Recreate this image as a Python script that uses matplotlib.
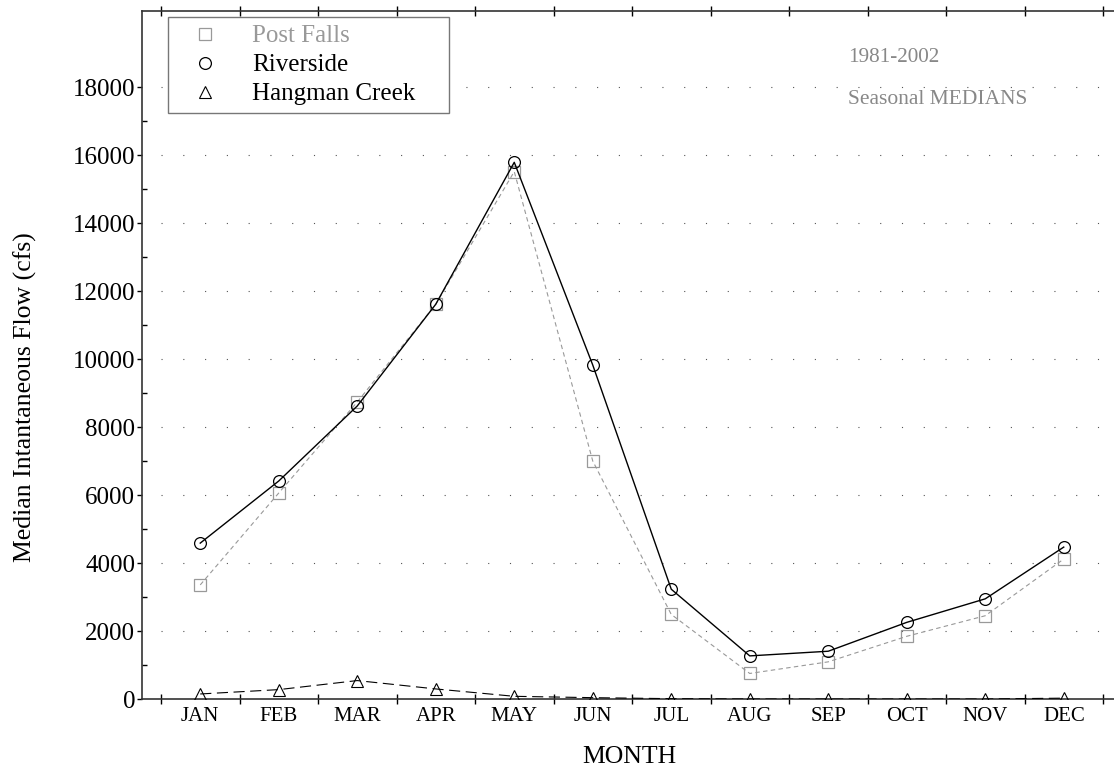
import matplotlib
matplotlib.use('Agg')
import matplotlib.pyplot as plt
from matplotlib.ticker import FixedLocator, FixedFormatter, NullFormatter
from matplotlib.lines import Line2D

plt.rcParams['font.family'] = ['Liberation Serif', 'DejaVu Serif']

months = ['JAN', 'FEB', 'MAR', 'APR', 'MAY', 'JUN', 'JUL', 'AUG', 'SEP', 'OCT', 'NOV', 'DEC']
post_falls = [3356, 6059, 8735, 11610, 15512, 7000, 2488, 751, 1093, 1844, 2449, 4117]
riverside = [4585, 6412, 8618, 11610, 15785, 9823, 3229, 1268, 1405, 2254, 2946, 4468]
hangman = [148, 276, 542, 296, 79, 39, 10, 0, 0, 0, 0, 25]
y_ticks = [0, 2000, 4000, 6000, 8000, 10000, 12000, 14000, 16000, 18000]
y_minor = [1000, 3000, 5000, 7000, 9000, 11000, 13000, 15000, 17000]
series_labels = ['Post Falls', 'Riverside', 'Hangman Creek']
note_period = '1981-2002'
note_stat = 'Seasonal MEDIANS'

W, H = 1114, 768
fig = plt.figure(figsize=(W / 100, H / 100), dpi=100)
ax = fig.add_axes([142.3 / W, (H - 699) / H, (1116 - 142.3) / W, (699 - 10.5) / H])

x = list(range(len(months)))
n = len(months)
ax.set_xlim((142.3 - 200.25) / 78.5, (1116 - 200.25) / 78.5)
ax.set_ylim(0, 20250)

# dotted horizontal grid from the first boundary
for v in y_ticks[1:]:
    ax.plot([-0.5, n + 1], [v, v], color='#555555', lw=0.8, ls=(0, (1, 18.6)), zorder=1)

ax.plot(x, post_falls, color='#999999', lw=0.8, ls=(0, (4, 3)), marker='s', ms=8,
        mfc='none', mec='#999999', mew=0.9, zorder=3)
ax.plot(x, riverside, color='black', lw=1.0, marker='o', ms=8.5,
        mfc='none', mec='black', mew=0.9, zorder=4)
ax.plot(x, hangman, color='black', lw=0.8, ls=(0, (10, 5)), marker='^', ms=8.5,
        mfc='none', mec='black', mew=0.8, zorder=3)

# axes ticks
ax.yaxis.set_major_locator(FixedLocator(y_ticks))
ax.yaxis.set_minor_locator(FixedLocator(y_minor))
ax.tick_params(axis='y', which='major', direction='out', length=3.6, width=1,
               labelsize=18, pad=1.5, colors='black')
ax.tick_params(axis='y', which='minor', direction='in', length=3.4, width=1)

ax.xaxis.set_major_locator(FixedLocator([i - 0.5 for i in range(n + 1)]))
ax.xaxis.set_major_formatter(NullFormatter())
ax.xaxis.set_minor_locator(FixedLocator(x))
ax.xaxis.set_minor_formatter(FixedFormatter(months))
ax.tick_params(axis='x', which='major', direction='inout', length=7.2, width=1,
               top=True, bottom=True)
ax.tick_params(axis='x', which='minor', length=0, labelsize=15, pad=5.5)

for side in ['left', 'bottom', 'top']:
    ax.spines[side].set_linewidth(1.2)
    ax.spines[side].set_color('#333333')
ax.spines['right'].set_visible(False)

handles = [
    Line2D([], [], ls='none', marker='s', ms=8, mfc='none', mec='#999999', mew=0.9),
    Line2D([], [], ls='none', marker='o', ms=8.5, mfc='none', mec='black', mew=0.9),
    Line2D([], [], ls='none', marker='^', ms=8.5, mfc='none', mec='black', mew=0.8),
]
leg = ax.legend(handles, series_labels, loc='upper left',
                bbox_to_anchor=(168 / W, 1 - 113 / H, 281 / W, 96 / H),
                bbox_transform=fig.transFigure, mode='expand', borderaxespad=0,
                fontsize=18, frameon=True, fancybox=False, edgecolor='#777777',
                framealpha=1, borderpad=0.31, labelspacing=0.26, handlelength=2.34,
                handletextpad=0.71, numpoints=1)
leg.get_frame().set_linewidth(1.0)
leg.get_texts()[0].set_color('#999999')
leg.set_zorder(10)

fig.text(848 / W, 1 - 62 / H, note_period, fontsize=15.3, color='#888888',
         ha='left', va='baseline',
         bbox=dict(facecolor='white', edgecolor='none', pad=1))
fig.text(848 / W, 1 - 104 / H, note_stat, fontsize=15.5, color='#888888',
         ha='left', va='baseline',
         bbox=dict(facecolor='white', edgecolor='none', pad=1))

fig.text(25 / W, 1 - 397 / H, 'Median Intantaneous Flow (cfs)', rotation=90,
         ha='center', va='center', fontsize=18.5)
fig.text(629 / W, 1 - 763 / H, 'MONTH', ha='center', va='baseline', fontsize=18.5)

fig.savefig('out.png', dpi=100)
